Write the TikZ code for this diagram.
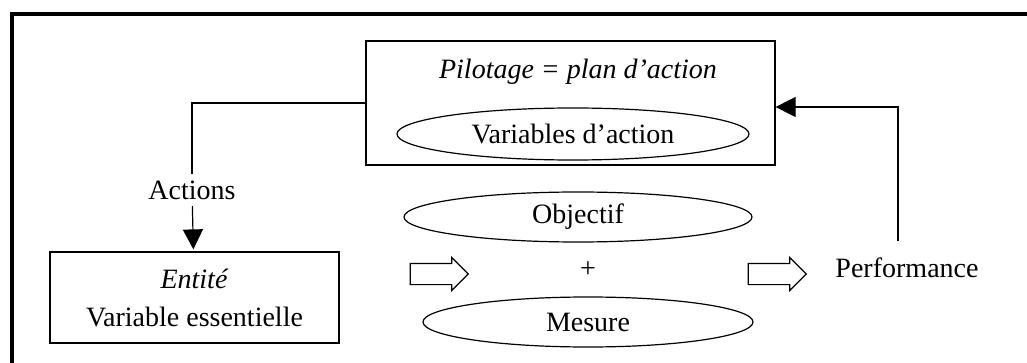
\documentclass[tikz,border=0pt]{standalone}
\usepackage{fontspec}
\setmainfont{Liberation Serif}
\usetikzlibrary{shapes.geometric,shapes.arrows,arrows.meta,positioning}

\begin{document}
\begin{tikzpicture}[x=0.5pt, y=-0.5pt, line width=0.6pt, font=\fontsize{14}{19}\selectfont,
    tete/.style={-{Triangle[length=10pt,width=10pt]}},
    fleche/.style={single arrow, draw, fill=white, inner sep=5pt, minimum width=0pt,
      single arrow head extend=3pt, minimum height=29pt}]
   \useasboundingbox (0,0) rectangle (1027,363);
   \draw [line width=1.6pt] (12,363) |- (1027,14);
   \begin{scope}[every node/.style={inner sep=3pt}]
    \node (pil) [draw, minimum width=204.5pt, minimum height=62pt] at (570.5,103) {};
    \node (pillab) at (578,72) {\itshape Pilotage = plan d’action};
    \node (varact) [draw, ellipse, minimum width=176pt, minimum height=26pt, inner sep=0pt] at (573,134) {Variables d’action};
    \node (actions) at (192,190) {Actions};
    \node (entite) [draw, align=center, minimum width=144.5pt, minimum height=45.5pt] at (194.5,297.5) {\textit{Entité}\\Variable essentielle};
    \node (obj) [draw, ellipse, minimum width=174pt, minimum height=25pt, inner sep=0pt] at (578,217) {Objectif};
    \node (plus) at (588,270) {+};
    \node (mes) [draw, ellipse, minimum width=165pt, minimum height=25pt, inner sep=0pt] at (588,322) {Mesure};
    \node (perf) at (907,268) {Performance};
    \node (fl1) [fleche] at (434,274) {};
    \node (fl2) [fleche] at (772,274) {};
   \end{scope}
   \draw (pil.west) -| (actions.north);
   \draw [tete, shorten >=1pt] (actions) -- (entite);
   \draw [tete] ([xshift=-4.5pt,yshift=5pt]perf.north) |- ([yshift=-2pt]pil.east);
\end{tikzpicture}
\end{document}
